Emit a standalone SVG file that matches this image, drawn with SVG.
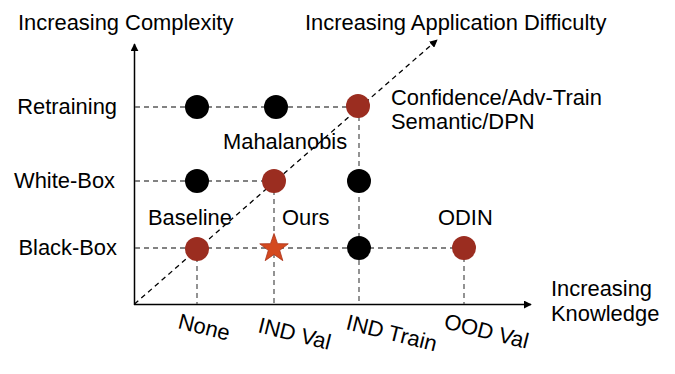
<svg xmlns="http://www.w3.org/2000/svg" width="675" height="374" viewBox="0 0 675 374">
<defs>
<style>
text{font-family:"Liberation Sans",Arial,sans-serif;font-size:21.9px;fill:#000}
.grid{stroke:#595959;stroke-width:1.3;stroke-dasharray:5,4;fill:none}
.diag{stroke:#000;stroke-width:1.3;stroke-dasharray:5,4;fill:none}
.axis{stroke:#000;stroke-width:1.5;fill:none}
.blk{fill:#000}
.red{fill:#9b2d20}
.star{fill:#d4491f;stroke:#a8321a;stroke-width:0.8}
</style>
<marker id="ah" viewBox="0 0 10 10" refX="9" refY="5" markerWidth="8" markerHeight="8" markerUnits="userSpaceOnUse" orient="auto">
<path d="M0,0 L10,5 L0,10 z" fill="#000"/>
</marker>
</defs>
<rect width="675" height="374" fill="#fff"/>

<g id="connectors">
<line class="axis" x1="134.5" y1="305" x2="134.5" y2="44" marker-end="url(#ah)"/>
<line class="axis" x1="134" y1="304.5" x2="531" y2="304.5" marker-end="url(#ah)"/>
<line class="diag" x1="134.5" y1="304" x2="437" y2="40" marker-end="url(#ah)"/>
<line class="grid" x1="135" y1="107" x2="358" y2="107"/>
<line class="grid" x1="135" y1="181" x2="274" y2="181"/>
<line class="grid" x1="135" y1="248" x2="464" y2="248"/>
<line class="grid" x1="197" y1="248" x2="197" y2="304"/>
<line class="grid" x1="274" y1="181" x2="274" y2="304"/>
<line class="grid" x1="359" y1="107" x2="359" y2="304"/>
<line class="grid" x1="464" y1="248" x2="464" y2="304"/>
</g>

<g id="axis-labels">
<text x="18" y="30">Increasing Complexity</text>
<text x="305" y="30">Increasing Application Difficulty</text>
<text x="551" y="296">Increasing</text>
<text x="551" y="321">Knowledge</text>
<text x="117" y="114" text-anchor="end">Retraining</text>
<text x="115" y="188" text-anchor="end">White-Box</text>
<text x="117" y="255" text-anchor="end">Black-Box</text>
<text transform="translate(177,328) rotate(14)">None</text>
<text transform="translate(257,332) rotate(14)">IND Val</text>
<text transform="translate(345,329) rotate(14)">IND Train</text>
<text transform="translate(443,328) rotate(14)">OOD Val</text>
</g>

<g id="node-retrain-none"><circle class="blk" cx="197" cy="107" r="12"/></g>
<g id="node-retrain-indval"><circle class="blk" cx="276" cy="107" r="12"/></g>
<g id="node-confidence"><circle class="red" cx="358" cy="106" r="12"/>
<text x="391" y="105">Confidence/Adv-Train</text>
<text x="391" y="129">Semantic/DPN</text></g>
<g id="node-white-none"><circle class="blk" cx="197" cy="181" r="12"/></g>
<g id="node-mahalanobis"><circle class="red" cx="274" cy="181" r="12"/>
<text x="223" y="149">Mahalanobis</text></g>
<g id="node-white-indtrain"><circle class="blk" cx="359" cy="181" r="12"/></g>
<g id="node-baseline"><circle class="red" cx="197" cy="249" r="12"/>
<text x="148" y="225">Baseline</text></g>
<g id="node-ours"><polygon class="star" points="274,233.5 277.53,243.65 288.27,243.86 279.71,250.35 282.82,260.64 274,254.5 265.18,260.64 268.29,250.35 259.73,243.86 270.47,243.65"/>
<text x="282" y="225">Ours</text></g>
<g id="node-black-indtrain"><circle class="blk" cx="359" cy="248" r="12"/></g>
<g id="node-odin"><circle class="red" cx="464" cy="248" r="12"/>
<text x="438" y="225">ODIN</text></g>
</svg>
